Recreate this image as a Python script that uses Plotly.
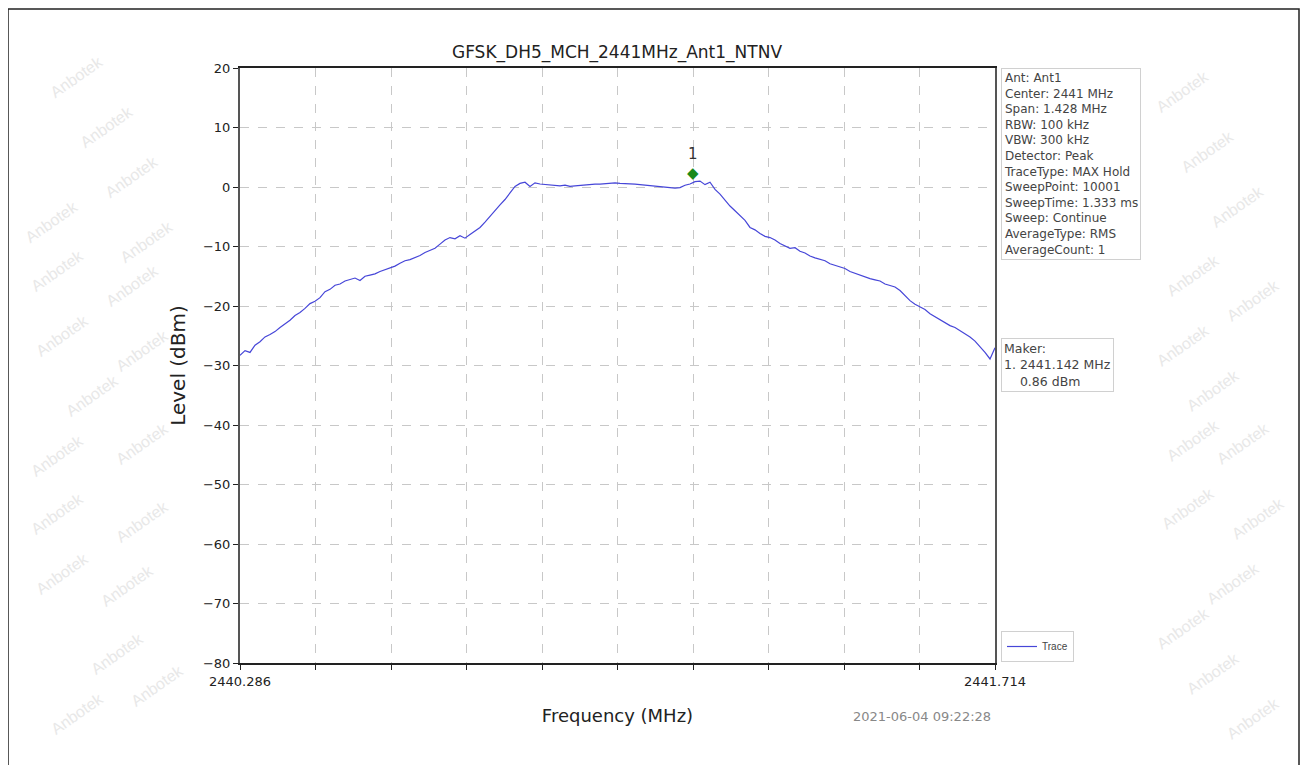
import numpy as np
import plotly.graph_objects as go

title_text = "GFSK_DH5_MCH_2441MHz_Ant1_NTNV"
f_start = 2440.286
f_stop = 2441.714
level_dbm = [
    -28.3, -27.5, -27.8, -26.6, -26.0, -25.2, -24.8, -24.3, -23.6, -23.0,
    -22.4, -21.6, -21.1, -20.4, -19.6, -19.2, -18.6, -17.6, -17.2, -16.5,
    -16.3, -15.8, -15.6, -15.3, -15.7, -15.0, -14.8, -14.6, -14.2, -13.9,
    -13.6, -13.3, -12.8, -12.4, -12.2, -11.9, -11.5, -11.0, -10.6, -10.3,
    -9.6, -8.9, -8.5, -8.7, -8.2, -8.6, -8.0, -7.4, -6.8, -5.9,
    -4.9, -3.9, -3.0, -2.1, -1.0, 0.1, 0.6, 0.8, 0.1, 0.7,
    0.5, 0.4, 0.4, 0.3, 0.2, 0.3, 0.1, 0.2, 0.3, 0.3,
    0.4, 0.5, 0.5, 0.6, 0.7, 0.7, 0.6, 0.6, 0.5, 0.5,
    0.4, 0.3, 0.2, 0.1, 0.0, -0.1, -0.1, -0.2, -0.1, 0.3,
    0.5, 0.9, 1.0, 0.4, 0.8, -0.4, -1.2, -2.2, -3.2, -4.0,
    -4.8, -5.6, -6.8, -7.2, -7.8, -8.3, -8.5, -8.9, -9.5, -9.9,
    -10.3, -10.2, -10.8, -11.1, -11.6, -11.9, -12.2, -12.4, -12.9, -13.2,
    -13.5, -13.7, -14.2, -14.5, -14.8, -15.2, -15.4, -15.6, -15.8, -16.3,
    -16.6, -16.8, -17.4, -18.3, -19.1, -19.7, -20.1, -20.6, -21.3, -21.8,
    -22.4, -22.8, -23.3, -23.6, -24.1, -24.7, -25.2, -25.9, -26.8, -27.8,
    -28.9, -27.0,
]
freq_mhz = np.linspace(f_start, f_stop, len(level_dbm))

marker_freq = 2441.142
marker_level = 0.86
y_ticks = [20, 10, 0, -10, -20, -30, -40, -50, -60, -70, -80]
x_tick_labels = ["2440.286", "", "", "", "", "", "", "", "", "", "2441.714"]
x_tick_vals = list(np.linspace(f_start, f_stop, len(x_tick_labels)))

info_lines = [
    "Ant: Ant1", "Center: 2441 MHz", "Span: 1.428 MHz", "RBW: 100 kHz",
    "VBW: 300 kHz", "Detector: Peak", "TraceType: MAX Hold", "SweepPoint: 10001",
    "SweepTime: 1.333 ms", "Sweep: Continue", "AverageType: RMS", "AverageCount: 1",
]
marker_lines = ["Maker:", "1. 2441.142 MHz", "    0.86 dBm"]
timestamp = "2021-06-04 09:22:28"

# page has an 8px body margin; work in reference-screen coordinates
OFF = 8
W, H = 1308 - 2 * OFF, 773 - 2 * OFF
L, R, T, B = 240, 995, 68, 663          # plot area in screen coords
pw, ph = R - L, B - T

def px(x):
    return (x - L) / pw

def py(y):
    return (B - y) / ph

fig = go.Figure()
fig.add_trace(go.Scatter(
    x=freq_mhz, y=level_dbm, mode="lines", name="Trace",
    line=dict(color="#4646d8", width=1.2),
))

font = "Liberation Sans, Arial, sans-serif"
wfont = "DejaVu Sans, Verdana, sans-serif"
annotations = []

wm = [(45, 50), (75, 100), (100, 150), (20, 195), (115, 215), (25, 270), (100, 285),
      (30, 335), (110, 350), (60, 395), (25, 455), (110, 470), (25, 540),
      (110, 548), (30, 600), (95, 612), (85, 680), (125, 712), (45, 740),
      (1215, 65), (1240, 125), (1270, 180), (1225, 275), (1285, 300),
      (1215, 345), (1245, 390), (1225, 440), (1275, 470), (1290, 545), (1220, 535),
      (1265, 610), (1215, 655), (1245, 700), (1285, 745)]
for (wx, wy) in wm:
    annotations.append(dict(
        xref="paper", yref="paper", x=px(wx), y=py(wy), text="Anbotek",
        showarrow=False, textangle=-35, font=dict(family=font, size=16, color="#e8e8e8"),
    ))

annotations.append(dict(
    xref="paper", yref="paper", x=px(1001), y=1.0, xanchor="left", yanchor="top",
    text="<br>".join(info_lines), align="left", showarrow=False,
    font=dict(family=wfont, size=12, color="#444444"),
    bordercolor="#d0d0d0", borderwidth=1, borderpad=2, bgcolor="white",
))
annotations.append(dict(
    xref="paper", yref="paper", x=px(1001), y=py(338), xanchor="left", yanchor="top",
    text="<br>".join(marker_lines).replace(" ", "&nbsp;"), align="left", showarrow=False,
    font=dict(family=wfont, size=12.5, color="#444444"),
    bordercolor="#d0d0d0", borderwidth=1, borderpad=2, bgcolor="white",
))
annotations.append(dict(
    x=marker_freq, y=marker_level, text="\u25C6", showarrow=False, yshift=9,
    font=dict(family="DejaVu Sans", size=15, color="#1a8a1a"),
))
annotations.append(dict(
    x=marker_freq, y=marker_level, text="1", showarrow=False, yshift=28,
    font=dict(family=wfont, size=15, color="#333333"),
))
annotations.append(dict(
    xref="paper", yref="paper", x=px(922), y=py(716), xanchor="center", yanchor="middle",
    text=timestamp, showarrow=False, font=dict(family=wfont, size=13, color="#888888"),
))

fig.update_layout(
    width=W, height=H,
    margin=dict(l=L - OFF, r=(1308 - OFF) - R, t=T - OFF, b=(773 - OFF) - B, autoexpand=False),
    paper_bgcolor="white", plot_bgcolor="white",
    title=dict(text=title_text, x=(617 - OFF) / W, xanchor="center",
               y=1 - (52 - OFF) / H, yanchor="middle",
               font=dict(family=wfont, size=17, color="#222222")),
    showlegend=True,
    legend=dict(x=px(1001), y=py(662), xanchor="left", yanchor="bottom",
                bordercolor="#d0d0d0", borderwidth=1, bgcolor="white",
                font=dict(family=font, size=10, color="#444444"), itemwidth=30),
    annotations=annotations,
    shapes=[dict(type="rect", xref="paper", yref="paper",
                 x0=px(8), x1=px(1299), y0=py(790), y1=py(9),
                 line=dict(color="#222222", width=1.5), layer="below")],
)
fig.update_xaxes(
    range=[f_start, f_stop], tickvals=x_tick_vals, ticktext=x_tick_labels,
    showgrid=True, gridcolor="#c8c8c8", griddash="dash", gridwidth=1,
    showline=True, linecolor="#222222", linewidth=2, mirror=True,
    ticks="outside", ticklen=5, tickcolor="#222222",
    tickfont=dict(family=wfont, size=13, color="#222222"),
    title=dict(text="Frequency (MHz)", font=dict(family=wfont, size=18, color="#222222"),
               standoff=22),
    zeroline=False,
)
fig.update_yaxes(
    range=[-80, 20], tickvals=y_ticks,
    showgrid=True, gridcolor="#c8c8c8", griddash="dash", gridwidth=1,
    showline=True, linecolor="#555555", linewidth=2, mirror=True,
    ticks="outside", ticklen=5, tickcolor="#222222",
    tickfont=dict(family=wfont, size=13, color="#222222"),
    title=dict(text="Level (dBm)", font=dict(family=wfont, size=20, color="#222222"),
               standoff=12),
    zeroline=False,
)

fig.write_html("out.html")
